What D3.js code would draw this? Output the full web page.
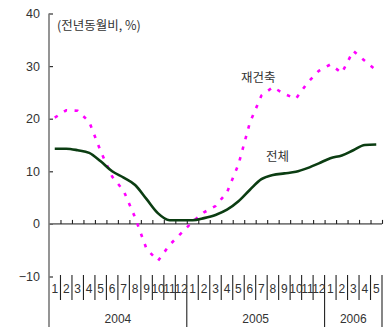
<!DOCTYPE html>
<html>
<head>
<meta charset="utf-8">
<script src="https://cdn.jsdelivr.net/npm/d3@7"></script>
<style>
  html, body { margin: 0; padding: 0; background: #fff; }
  svg { display: block; }
  text { font-family: "Liberation Sans", Arial, "Noto Sans CJK KR", sans-serif; fill: #333; }
  .kr { font-family: "Noto Sans CJK KR", "Liberation Sans", sans-serif; }
</style>
</head>
<body>
<svg id="chart" width="388" height="327"></svg>
<script>
// Month labels along the x axis (Jan 2004 – May 2006)
const monthLabels = ["1","2","3","4","5","6","7","8","9","10","11","12",
                     "1","2","3","4","5","6","7","8","9","10","11","12",
                     "1","2","3","4","5"];
const years = ["2004", "2005", "2006"];
const monthsPerYear = [12, 12, 5];

// Year-on-year change, %
const totalSeries = [14.3, 14.3, 14.0, 13.5, 11.9, 10.0, 8.8, 7.4, 4.7, 2.0, 0.7, 0.7,
                     0.7, 1.1, 1.7, 2.7, 4.3, 6.5, 8.5, 9.3, 9.6, 9.9, 10.6, 11.5,
                     12.5, 13.0, 14.0, 15.0, 15.1];
const rebuildSeries = [20.2, 21.6, 21.5, 19.4, 13.8, 9.0, 6.3, 1.2, -4.8, -7.0, -4.0, -1.8,
                       0.4, 2.2, 3.4, 6.0, 11.3, 19.3, 24.4, 26.0, 24.7, 23.8, 26.8, 29.1,
                       30.3, 28.7, 32.9, 31.0, 29.2];
const yTicks = [-10, 0, 10, 20, 30, 40];

const svg = d3.select("#chart");
const plotLeft = 49, plotRight = 382, plotTop = 13.5, plotBottom = 276.5, H = 327;

const idx = d3.range(monthLabels.length);
const x = d3.scaleBand().domain(idx).range([plotLeft, plotRight]).paddingInner(0).paddingOuter(0);
const xc = i => x(i) + x.bandwidth() / 2;
const xEdge = d3.scaleLinear().domain([0, monthLabels.length]).range([plotLeft, plotRight]);
const y = d3.scaleLinear().domain([-10, 40]).range([plotBottom, plotTop]);

// y axis: ticks pointing inward
const yAxis = d3.axisLeft(y).tickValues(yTicks).tickSizeInner(-4).tickSizeOuter(0).tickPadding(9);
const gy = svg.append("g").attr("transform", `translate(${plotLeft},0)`).call(yAxis);
gy.select(".domain").remove();
gy.selectAll(".tick line").attr("stroke", "#333").attr("stroke-width", 1.2);
gy.selectAll(".tick text").attr("font-size", 12.5).attr("fill", "#333")
  .style("font-family", "'Liberation Sans', Arial, sans-serif");

// vertical axis line running to the bottom
svg.append("line").attr("x1", plotLeft).attr("x2", plotLeft).attr("y1", plotTop).attr("y2", H)
  .attr("stroke", "#7a7a7a").attr("stroke-width", 1.6);

// zero baseline with month boundary ticks
svg.append("line").attr("x1", plotLeft).attr("x2", plotRight).attr("y1", y(0)).attr("y2", y(0))
  .attr("stroke", "#7a7a7a").attr("stroke-width", 1.6);
const gz = svg.append("g").attr("transform", `translate(0,${y(0)})`)
  .call(d3.axisTop(xEdge).tickValues(d3.range(1, monthLabels.length + 1)).tickSize(4).tickFormat(""));
gz.select(".domain").remove();
gz.selectAll(".tick line").attr("stroke", "#222").attr("stroke-width", 1.1);

// month label band: separators
const sepTop = 275, sepBottom = 300;
const yearEdges = [0];
monthsPerYear.forEach((n, i) => yearEdges.push(yearEdges[i] + n));
svg.append("g").selectAll("line")
  .data(d3.range(1, monthLabels.length + 1))
  .join("line")
  .attr("x1", d => xEdge(d)).attr("x2", d => xEdge(d))
  .attr("y1", sepTop)
  .attr("y2", d => yearEdges.includes(d) ? H : sepBottom)
  .attr("stroke", "#222").attr("stroke-width", 1.1);

// month labels
const gx = svg.append("g").attr("transform", `translate(0,${sepTop})`)
  .call(d3.axisBottom(x).tickSize(0).tickPadding(0).tickFormat(i => monthLabels[i]));
gx.select(".domain").remove();
gx.selectAll(".tick text").attr("y", 18).attr("dy", 0).attr("font-size", 12)
  .attr("fill", "#333").style("font-family", "'Liberation Sans', Arial, sans-serif");

// year labels
svg.append("g").selectAll("text")
  .data(years)
  .join("text")
  .attr("x", (d, i) => (xEdge(yearEdges[i]) + xEdge(yearEdges[i + 1])) / 2)
  .attr("y", 323)
  .attr("text-anchor", "middle")
  .attr("font-size", 12)
  .attr("fill", "#333")
  .text(d => d);

// series lines
const lineTotal = d3.line().x((d, i) => xc(i)).y(d => y(d)).curve(d3.curveMonotoneX);
const lineRebuild = d3.line().x((d, i) => xc(i)).y(d => y(d));

svg.append("path").datum(rebuildSeries)
  .attr("d", lineRebuild)
  .attr("fill", "none")
  .attr("stroke", "#ff00ff")
  .attr("stroke-width", 2.6)
  .attr("stroke-dasharray", "3.5,7.5");

svg.append("path").datum(totalSeries)
  .attr("d", lineTotal)
  .attr("fill", "none")
  .attr("stroke", "#0b3d12")
  .attr("stroke-width", 2.6)
  .attr("stroke-linejoin", "round");

// annotations
svg.append("text").attr("class", "kr").attr("x", 57).attr("y", 30)
  .attr("font-size", 12.5).attr("fill", "#333").text("(전년동월비, %)");
svg.append("text").attr("class", "kr").attr("x", 241).attr("y", 82)
  .attr("font-size", 12.5).attr("fill", "#333").text("재건축");
svg.append("text").attr("class", "kr").attr("x", 266).attr("y", 161)
  .attr("font-size", 12.5).attr("fill", "#333").text("전체");
</script>
</body>
</html>
